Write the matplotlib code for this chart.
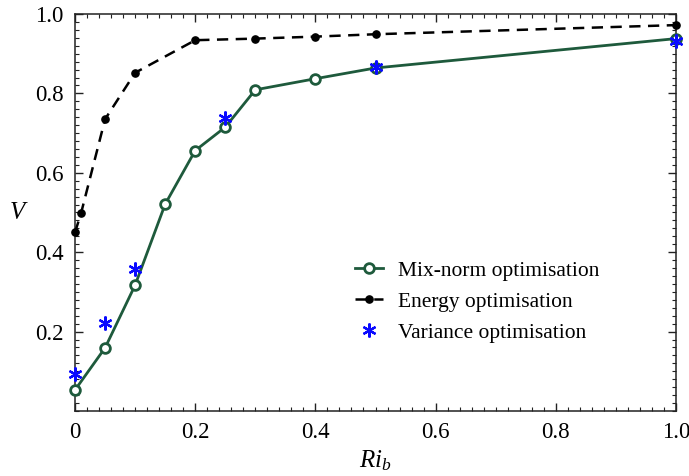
import matplotlib
matplotlib.use("Agg")
import matplotlib.pyplot as plt
from matplotlib.ticker import MultipleLocator, FixedLocator

plt.rcParams['font.family'] = ['Liberation Serif', 'DejaVu Serif']
plt.rcParams['mathtext.fontset'] = 'custom'
plt.rcParams['mathtext.it'] = 'Liberation Serif:italic'
plt.rcParams['mathtext.rm'] = 'Liberation Serif'

mix_x = [0.0, 0.05, 0.1, 0.15, 0.2, 0.25, 0.3, 0.4, 0.5, 1.0]
mix_y = [0.053, 0.159, 0.317, 0.521, 0.656, 0.715, 0.809, 0.837, 0.864, 0.938]

energy_x = [0.0, 0.01, 0.05, 0.1, 0.2, 0.3, 0.4, 0.5, 1.0]
energy_y = [0.450, 0.498, 0.735, 0.852, 0.934, 0.938, 0.943, 0.949, 0.972]

var_x = [0.0, 0.05, 0.1, 0.25, 0.5, 1.0]
var_y = [0.094, 0.222, 0.358, 0.737, 0.866, 0.931]

x_ticks = [0, 0.2, 0.4, 0.6, 0.8, 1.0]
x_tick_labels = ['0', '0.2', '0.4', '0.6', '0.8', '1.0']
y_ticks = [0.2, 0.4, 0.6, 0.8, 1.0]
y_tick_labels = ['0.2', '0.4', '0.6', '0.8', '1.0']

green = '#1e5a3c'

fig = plt.figure(figsize=(6.89, 4.76), dpi=100)
ax = fig.add_axes([0.1089, 0.1366, 0.8722, 0.834])

ax.plot(mix_x, mix_y, '-', color=green, lw=2.0, marker='o', ms=7,
        mfc='white', mec=green, mew=2.0, label='Mix-norm optimisation', clip_on=False, zorder=3)
ax.plot(energy_x, energy_y, '--', color='black', lw=1.8, dashes=(4.5, 3.0), marker='o', ms=5.2,
        mfc='black', mec='black', label='Energy optimisation', clip_on=False, zorder=3)
ax.plot(var_x, var_y, linestyle='none', marker=(6, 2, 0), ms=10, mec='#0a0aff', mew=1.6,
        color='#0a0aff', label='Variance optimisation', clip_on=False, zorder=4)

ax.set_xlim(0, 1.0)
ax.set_ylim(0, 1.0)
ax.xaxis.set_major_locator(FixedLocator(x_ticks))
ax.set_xticklabels(x_tick_labels)
ax.yaxis.set_major_locator(FixedLocator(y_ticks))
ax.set_yticklabels(y_tick_labels)
ax.xaxis.set_minor_locator(MultipleLocator(0.02))
ax.yaxis.set_minor_locator(MultipleLocator(0.02))
ax.tick_params(which='both', direction='in', top=True, right=True, labelsize=16.5, color='#222222')
ax.tick_params(which='major', length=6, width=1.0, pad=8)
ax.tick_params(which='minor', length=3, width=0.8)
for s in ax.spines.values():
    s.set_linewidth(1.1)
    s.set_color('#222222')

ax.set_xlabel(r'$Ri_b$', fontsize=18)
ax.xaxis.set_label_coords(0.5, -0.095)
ax.set_ylabel(r'$V$', fontsize=18, rotation=0)
ax.yaxis.set_label_coords(-0.093, 0.47)

leg = ax.legend(loc='upper left', bbox_to_anchor=(0.448, 0.405), frameon=False, fontsize=15.5,
                handlelength=1.3, handletextpad=0.7, labelspacing=0.5, borderpad=0)

fig.savefig('out.png', dpi=100)
